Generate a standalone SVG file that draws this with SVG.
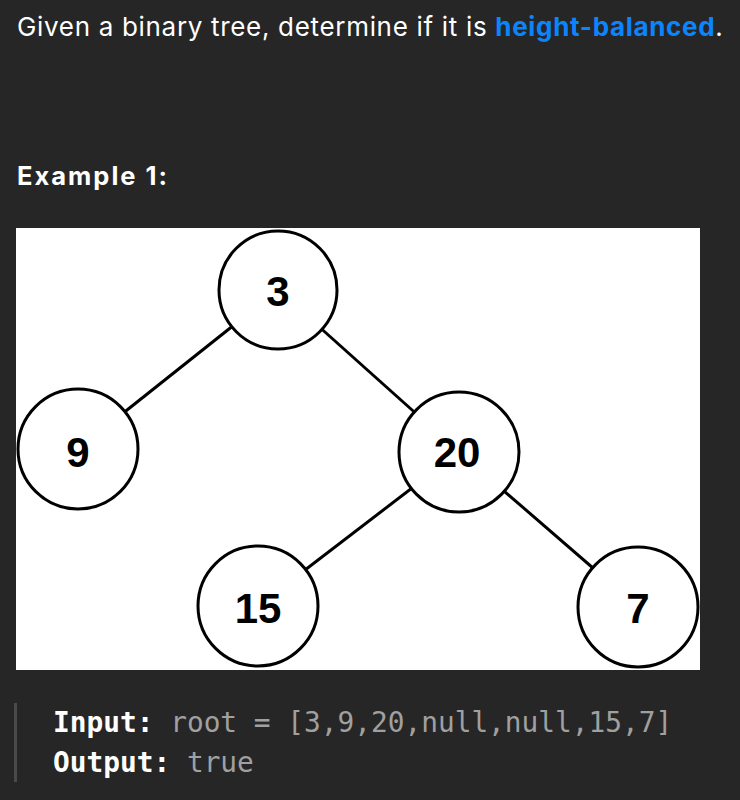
<svg xmlns="http://www.w3.org/2000/svg" width="740" height="800" viewBox="0 0 740 800">
  <style>
    .txt { font-family: Inter, "Noto Sans", "Liberation Sans", sans-serif; fill: #ffffff; }
    .link { fill: #0a84ff; font-weight: 700; }
    .node circle { fill: #ffffff; stroke: #000000; stroke-width: 3; }
    .node text { font-family: "Liberation Sans", Arial, sans-serif; font-weight: 700; font-size: 42px; fill: #000000; text-anchor: middle; }
    .edges line { stroke: #000000; stroke-width: 3; }
    .code { font-family: "DejaVu Sans Mono", "Liberation Mono", monospace; font-size: 27.8px; }
    .key { fill: #ffffff; font-weight: 700; }
    .val { fill: #a0a0a0; }
  </style>

  <rect x="0" y="0" width="740" height="800" fill="#262626"/>

  <!-- heading -->
  <text class="txt" x="17" y="36" font-size="26" letter-spacing="0.68">Given a binary tree, determine if it is <tspan class="link">height-balanced</tspan>.</text>
  <text class="txt" x="17" y="185" font-size="25.5" font-weight="700" letter-spacing="2">Example 1:</text>

  <!-- tree image -->
  <rect x="16" y="228" width="684" height="442" fill="#ffffff"/>
  <svg x="16" y="228" width="684" height="442" viewBox="16 228 684 442" overflow="hidden">
    <g class="edges">
      <line x1="278" y1="290" x2="78" y2="449"/>
      <line x1="278" y1="290" x2="459" y2="452"/>
      <line x1="459" y1="452" x2="258" y2="606"/>
      <line x1="459" y1="452" x2="638" y2="607"/>
    </g>
    <g id="n3" class="node"><circle cx="278" cy="290" r="59"/><text x="278" y="306">3</text></g>
    <g id="n9" class="node"><circle cx="78" cy="449" r="60"/><text x="78" y="467">9</text></g>
    <g id="n20" class="node"><circle cx="459" cy="452" r="60"/><text x="457" y="467">20</text></g>
    <g id="n15" class="node"><circle cx="258" cy="606" r="60"/><text x="258" y="623">15</text></g>
    <g id="n7" class="node"><circle cx="638" cy="607" r="60"/><text x="638" y="623">7</text></g>
  </svg>

  <!-- example code block -->
  <rect x="14" y="703" width="3" height="79" fill="#4a4a4a"/>
  <text class="code" x="53" y="732"><tspan class="key">Input:</tspan><tspan class="val"> root = [3,9,20,null,null,15,7]</tspan></text>
  <text class="code" x="53" y="772"><tspan class="key">Output:</tspan><tspan class="val"> true</tspan></text>
</svg>
